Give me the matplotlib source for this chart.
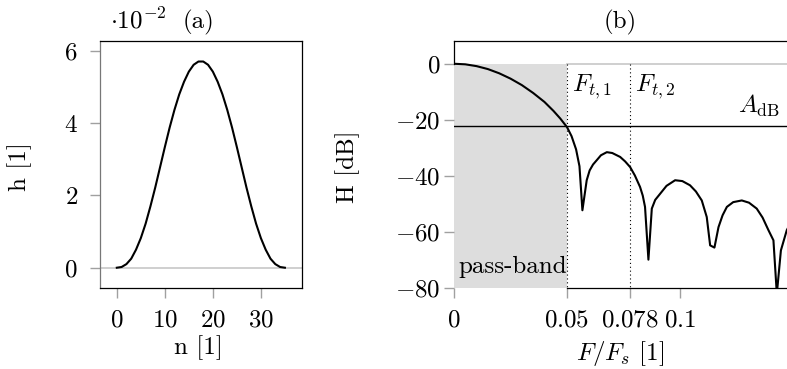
import matplotlib
matplotlib.use("Agg")
import matplotlib.pyplot as plt
import numpy as np

plt.rcParams['font.family'] = 'serif'
plt.rcParams['font.serif'] = ['cmr10', 'DejaVu Serif']
plt.rcParams['mathtext.fontset'] = 'cm'
plt.rcParams['axes.unicode_minus'] = False

# ---- data (a): impulse response, in units of 1e-2 ----
n_idx = list(range(36))
h_half = [0.00, 0.02, 0.10, 0.25, 0.50, 0.82, 1.22, 1.70, 2.22, 2.78,
          3.34, 3.88, 4.37, 4.80, 5.15, 5.43, 5.62, 5.71]
h_vals = h_half + h_half[::-1]

# ---- data (b): magnitude response in dB ----
F_vals = [0.0, 0.005, 0.010, 0.015, 0.020, 0.025, 0.030, 0.035, 0.040,
          0.044, 0.047, 0.050, 0.052, 0.054, 0.0555, 0.0568,
          0.0587, 0.0600, 0.0615, 0.0631, 0.0650, 0.0676, 0.0700, 0.0735,
          0.0757, 0.0779, 0.0800, 0.0823, 0.0835, 0.0845, 0.0860,
          0.0875, 0.0890, 0.0912, 0.0940, 0.0978, 0.1010, 0.1044, 0.1070,
          0.1096, 0.1118, 0.1133, 0.1152,
          0.1170, 0.1188, 0.1207, 0.1235, 0.1273, 0.1305, 0.1339, 0.1365,
          0.1391, 0.1413, 0.1428, 0.1446, 0.1472, 0.1500]
H_vals = [0.0, -0.2, -0.85, -1.9, -3.4, -5.3, -7.6, -10.4, -13.6,
          -16.8, -19.5, -22.6, -25.8, -30.5, -36.5, -52.2,
          -41.5, -38.0, -35.9, -34.4, -32.6, -31.5, -31.8, -33.2,
          -34.8, -36.8, -39.8, -43.9, -47.0, -51.0, -69.8,
          -51.6, -48.5, -46.3, -43.5, -41.5, -41.8, -43.3, -45.5,
          -48.7, -54.6, -64.7, -65.5,
          -58.2, -54.0, -51.0, -49.3, -48.7, -49.5, -51.6, -54.8,
          -59.3, -62.9, -82.0, -66.5, -59.3, -55.0]

left_xticks = [0, 10, 20, 30]
left_yticks = [0, 2, 4, 6]
right_xticks = [0, 0.05, 0.078, 0.1]
right_xticklabels = ['$0$', '$0.05$', '$0.078$', '$0.1$']
right_yticks = [0, -20, -40, -60, -80]
F_t1 = 0.05
F_t2 = 0.078
A_dB = -22

FS = 18
W, H = 787, 369
fig = plt.figure(figsize=(W / 100, H / 100), dpi=100)

tick_gray = '#a0a0a0'
zero_gray = '#cccccc'

# ---------------- left panel ----------------
ax1 = fig.add_axes([100 / W, 1 - 288.3 / H, 201.7 / W, 247 / H])
ax1.plot(n_idx, h_vals, color='black', lw=1.5, zorder=3)
ax1.axhline(0, color=zero_gray, lw=1.3, zorder=1)
ax1.set_xlim(-3.5, 38.5)
ax1.set_ylim(-0.57, 6.27)
ax1.set_xticks(left_xticks)
ax1.set_xticklabels(['$%d$' % v for v in left_xticks], fontsize=FS)
ax1.set_yticks(left_yticks)
ax1.set_yticklabels(['$%d$' % v for v in left_yticks], fontsize=FS)
ax1.tick_params(axis='both', direction='out', length=7, width=1.0, color=tick_gray)
ax1.tick_params(axis='y', pad=9)
ax1.tick_params(axis='x', pad=8)
for s in ['top', 'right', 'bottom']:
    ax1.spines[s].set_color('black')
    ax1.spines[s].set_linewidth(0.9)
ax1.spines['left'].set_color('#777777')
ax1.spines['left'].set_linewidth(0.9)
ax1.text(0.49, 1.052, '(a)', transform=ax1.transAxes, ha='center', va='baseline', fontsize=FS)
ax1.text(0.05, 1.052, r'$\cdot 10^{-2}$', transform=ax1.transAxes, ha='left', va='baseline', fontsize=FS)
ax1.text(0.49, -0.266, 'n [1]', transform=ax1.transAxes, ha='center', va='baseline', fontsize=FS)
ax1.text(-0.397, 0.491, 'h [1]', transform=ax1.transAxes, ha='center', va='center',
         rotation=90, fontsize=FS)

# ---------------- right panel ----------------
xmax = 0.1473
ax2 = fig.add_axes([454 / W, 1 - 288.3 / H, (W - 454) / W, 247 / H])
ax2.set_xlim(0, xmax)
ax2.set_ylim(-80, 8)
ax2.fill_between([0, F_t1], [-80, -80], [0, 0], color='#dddddd', lw=0, zorder=1)
ax2.plot([F_t1, xmax], [0, 0], color=zero_gray, lw=1.3, zorder=1)
ax2.plot([F_t1, F_t1], [0, -80], color='black', lw=0.8, ls=(0, (1, 2.5)), zorder=2)
ax2.plot([F_t2, F_t2], [0, -80], color='black', lw=0.8, ls=(0, (1, 2.5)), zorder=2)
ax2.axhline(A_dB, color='black', lw=1.0, zorder=3)
ax2.plot(F_vals, H_vals, color='black', lw=1.5, zorder=4)
ax2.set_xticks(right_xticks)
ax2.set_xticklabels(right_xticklabels, fontsize=FS)
ax2.set_yticks(right_yticks)
ax2.set_yticklabels(['$%d$' % v if v == 0 else '$-%d$' % (-v) for v in right_yticks], fontsize=FS)
ax2.tick_params(axis='both', direction='out', length=7, width=1.0, color=tick_gray)
ax2.tick_params(axis='y', pad=2.5)
ax2.tick_params(axis='x', pad=8)
ax2.spines['right'].set_visible(False)
ax2.spines['top'].set_linewidth(0.9)
ax2.spines['left'].set_linewidth(0.9)
ax2.spines['bottom'].set_linewidth(0.9)
ax2.spines['left'].set_bounds(0, 8)
ax2.spines['bottom'].set_bounds(F_t1, xmax)

ax2.text(F_t1 + 0.002, -8.1, r'$F_{t,1}$', ha='left', va='center', fontsize=FS)
ax2.text(F_t2 + 0.002, -8.1, r'$F_{t,2}$', ha='left', va='center', fontsize=FS)
ax2.text(0.1442, -19.8, r'$A_{\mathrm{dB}}$', ha='right', va='bottom', fontsize=FS)
ax2.text(0.0019, -72.4, 'pass-band', ha='left', va='center', fontsize=FS)
ax2.text(0.5, 1.052, '(b)', transform=ax2.transAxes, ha='center', va='baseline', fontsize=FS)
ax2.text(0.5, -0.29, r'$F/F_s$ [1]', transform=ax2.transAxes, ha='center', va='baseline', fontsize=FS)
ax2.text(-0.318, 0.491, 'H [dB]', transform=ax2.transAxes, ha='center', va='center',
         rotation=90, fontsize=FS)

fig.savefig('out.png', dpi=100)
